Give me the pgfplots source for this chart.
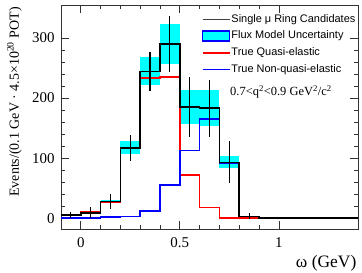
\documentclass[border=0pt]{standalone}
\usepackage{pgfplots}
\pgfplotsset{compat=1.18}
\usepackage{pgfplotstable}
\usepackage{fontspec}
\setmainfont{Liberation Serif}
\newfontfamily\helv{Liberation Sans}
\usetikzlibrary{calc}
\definecolor{rootcyan}{RGB}{0,255,255}
\definecolor{rootred}{RGB}{255,0,0}
\definecolor{rootblue}{RGB}{0,0,255}
\pgfplotstableread{
x y
-0.1 5
0.0 9
0.1 28
0.2 117
0.3 244
0.4 290
0.5 185
0.6 183
0.7 93
0.8 3
0.9 0
1.4 0
}\blackhist
\pgfplotstableread{
x y
-0.1 5
0.0 10
0.1 27
0.2 117
0.3 233
0.4 235
0.5 72
0.6 18
0.7 0
0.8 0
0.9 0
}\redhist
\pgfplotstableread{
x y
-0.1 0
0.0 0
0.1 2
0.2 3
0.3 12
0.4 55
0.5 113
0.6 165
0.7 92
0.8 3
0.9 0
1.4 0
}\bluehist
\pgfplotstableread{
x y e
-0.05 5 5
0.05 9 9
0.15 28 12
0.25 117 21
0.35 244 32
0.45 290 46
0.55 185 50
0.65 183 47
0.75 93 35
0.85 3 5
}\datapts
\begin{document}
\begin{tikzpicture}
\begin{axis}[
  scale only axis, width=297bp, height=224bp,
  xmin=-0.1, xmax=1.4, ymin=-18, ymax=355,
  xtick={0,0.5,1}, ytick={0,100,200,300},
  minor x tick num=4, minor y tick num=4,
  tick pos=both, tick align=inside,
  major tick length=8bp, minor tick length=4bp,
  axis line style={black!80, line width=0.6bp},
  every tick/.style={black!80, line width=0.6bp},
  /pgf/number format/assume math mode=true,
  ticklabel style={font=\fontsize{15}{17}\selectfont},
  xticklabel style={yshift=-5bp},
  yticklabel style={xshift=-3bp},
  ylabel={Events/(0.1 GeV · 4.5×10\textsuperscript{20} POT)},
  ylabel style={at={(axis description cs:-0.131,0.991)}, anchor=south east, inner sep=0pt, font=\fontsize{14}{16}\selectfont},
  xlabel={ω (GeV)},
  xlabel style={at={(axis description cs:0.995,-0.115)}, anchor=north east, inner sep=0pt, font=\fontsize{17.5}{19}\selectfont},
  legend cell align=left,
  legend style={at={(axis description cs:0.474,0.965)}, anchor=north west, draw=none, fill=none,
    inner sep=0pt, font=\helv\fontsize{11}{13}\selectfont, row sep=4.3bp, column sep=0bp,
    nodes={inner sep=1bp, text height=8bp, text depth=2.5bp}},
]
\coordinate (sw) at (rel axis cs:0,0);
\coordinate (ne) at (rel axis cs:1,1);
% flux uncertainty band
\addplot[fill=rootcyan, draw=none, forget plot] coordinates {(-0.1,4)(0,4)(0,6)(-0.1,6)} -- cycle;
\addplot[fill=rootcyan, draw=none, forget plot] coordinates {(0,8)(0.1,8)(0.1,10.5)(0,10.5)} -- cycle;
\addplot[fill=rootcyan, draw=none, forget plot] coordinates {(0.1,26.5)(0.2,26.5)(0.2,30.5)(0.1,30.5)} -- cycle;
\addplot[fill=rootcyan, draw=none, forget plot] coordinates {(0.2,107)(0.3,107)(0.3,129)(0.2,129)} -- cycle;
\addplot[fill=rootcyan, draw=none, forget plot] coordinates {(0.3,221)(0.4,221)(0.4,268)(0.3,268)} -- cycle;
\addplot[fill=rootcyan, draw=none, forget plot] coordinates {(0.4,256)(0.5,256)(0.5,324)(0.4,324)} -- cycle;
\addplot[fill=rootcyan, draw=none, forget plot] coordinates {(0.5,157)(0.6,157)(0.6,213)(0.5,213)} -- cycle;
\addplot[fill=rootcyan, draw=none, forget plot] coordinates {(0.6,153)(0.7,153)(0.7,214)(0.6,214)} -- cycle;
\addplot[fill=rootcyan, draw=none, forget plot] coordinates {(0.7,83)(0.8,83)(0.8,103)(0.7,103)} -- cycle;
% histograms
\addplot[rootred, line width=1.6bp, const plot, forget plot] table[x=x,y=y] {\redhist};
\addplot[rootblue, line width=1.6bp, const plot, forget plot] table[x=x,y=y] {\bluehist};
\addplot[black, line width=1.6bp, const plot, forget plot] table[x=x,y=y] {\blackhist};
\addplot[draw=none, mark=none, forget plot, error bars/.cd, y dir=both, y explicit,
  error mark=none, error bar style={black, line width=1.2bp, solid}] table[x=x,y=y,y error=e] {\datapts};
% legend
\addlegendimage{black!75, line width=1.5bp, legend image code/.code={\draw (0bp,0bp) -- (27bp,0bp);}}
\addlegendentry{Single μ Ring Candidates}
\addlegendimage{fill=rootcyan, draw=rootblue, line width=1.2bp, legend image code/.code={\draw (0bp,-5bp) rectangle (27bp,5bp);}}
\addlegendentry{Flux Model Uncertainty}
\addlegendimage{rootred, line width=1.5bp, legend image code/.code={\draw (0bp,0bp) -- (27bp,0bp);}}
\addlegendentry{True Quasi-elastic}
\addlegendimage{rootblue, line width=1.5bp, legend image code/.code={\draw (0bp,0bp) -- (27bp,0bp);}}
\addlegendentry{True Non-quasi-elastic}
\node[anchor=west, inner sep=0pt, font=\fontsize{12.5}{14}\selectfont] at (axis description cs:0.569,0.612)
  {0.7<q\textsuperscript{2}<0.9 GeV\textsuperscript{2}/c\textsuperscript{2}};
\end{axis}
\pgfresetboundingbox
\path ($(sw)+(-61bp,-44bp)$) rectangle ($(ne)+(4bp,5bp)$);
\end{tikzpicture}
\end{document}
